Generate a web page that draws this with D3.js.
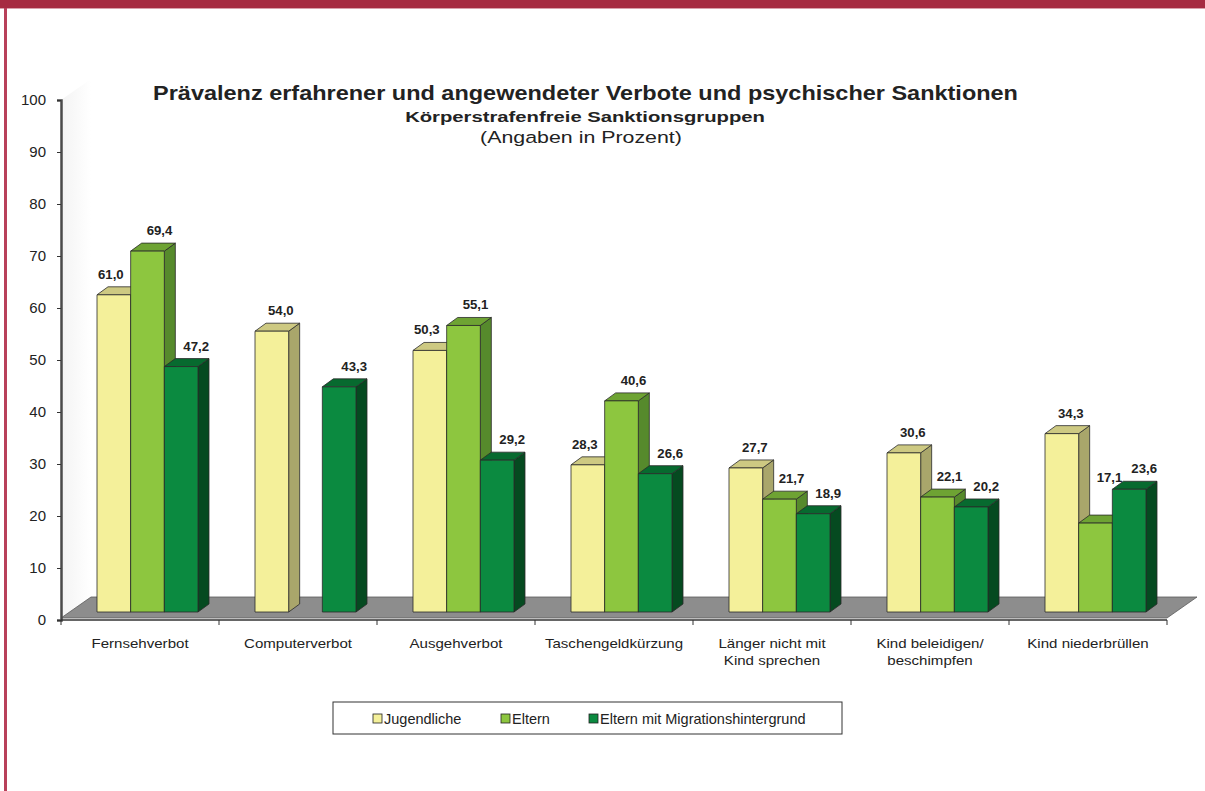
<!DOCTYPE html>
<html>
<head>
<meta charset="utf-8">
<script src="https://cdn.jsdelivr.net/npm/d3@7"></script>
<style>
  html, body { margin: 0; padding: 0; background: #fff; }
  svg { display: block; font-family: 'Liberation Sans', Arial, sans-serif; }
</style>
</head>
<body>
<svg id="chart" width="1205" height="791"></svg>
<script>
'use strict'

// data
const categories = ['Fernsehverbot', 'Computerverbot', 'Ausgehverbot', 'Taschengeldkürzung',
  'Länger nicht mit\nKind sprechen', 'Kind beleidigen/\nbeschimpfen', 'Kind niederbrüllen']
const seriesNames = ['Jugendliche', 'Eltern', 'Eltern mit Migrationshintergrund']
const jugendliche = [61.0, 54.0, 50.3, 28.3, 27.7, 30.6, 34.3]
const eltern = [69.4, null, 55.1, 40.6, 21.7, 22.1, 17.1]
const elternMigration = [47.2, 43.3, 29.2, 26.6, 18.9, 20.2, 23.6]
const yTicks = [0, 10, 20, 30, 40, 50, 60, 70, 80, 90, 100]

const seriesValues = [jugendliche, eltern, elternMigration]
const colors = [
  {front: '#f4f09a', top: '#cdc982', side: '#a9a66b'},
  {front: '#8dc63f', top: '#6ea333', side: '#568a2c'},
  {front: '#0b8a40', top: '#076a2f', side: '#054a20'}
]

const svg = d3.select('#chart')
const stretch = 1.16 // the source picture is a little wider than tall

// frame
svg.append('rect').attr('x', 0).attr('y', 0).attr('width', 1205).attr('height', 8).attr('fill', '#a62b41')
svg.append('rect').attr('x', 0).attr('y', 8).attr('width', 1205).attr('height', 1).attr('fill', '#d9a0aa')
svg.append('rect').attr('x', 4).attr('y', 8).attr('width', 3).attr('height', 783).attr('fill', '#b8405a')

const left = 61
const right = 1167
const y = d3.scaleLinear().domain([0, 100]).range([620, 100])
const x0 = d3.scaleBand().domain(categories).range([left, right])
const x1 = d3.scaleBand().domain(seriesNames).range([36, 137])

const depth = {dx: 11, dy: -8}
const floorDepth = {dx: 30, dy: -21}
const barBase = y(0) - 8
const topOf = v => y(v) - 8

// left wall (faint)
const grad = svg.append('defs').append('linearGradient')
  .attr('id', 'wall').attr('x1', 0).attr('x2', 1).attr('y1', 0).attr('y2', 0)
grad.append('stop').attr('offset', 0).attr('stop-color', '#d8d8d8')
grad.append('stop').attr('offset', 1).attr('stop-color', '#ffffff')
svg.append('path')
  .attr('d', `M${left},${y(0)}L${left + floorDepth.dx},${y(0) + floorDepth.dy}L${left + floorDepth.dx},${y(100) + floorDepth.dy}L${left},${y(100)}Z`)
  .attr('fill', 'url(#wall)').attr('opacity', 0.3)

// floor
svg.append('path')
  .attr('d', `M${left},${y(0) - 2}L${left + floorDepth.dx},${y(0) - 2 + floorDepth.dy}L${right + floorDepth.dx},${y(0) - 2 + floorDepth.dy}L${right},${y(0) - 2}Z`)
  .attr('fill', '#8d8d8d').attr('stroke', '#5a5a5a').attr('stroke-width', 0.8)

// y axis
const yAxis = d3.axisLeft(y).tickValues(yTicks).tickSize(4).tickPadding(11)
const yG = svg.append('g').attr('transform', `translate(${left},0)`).call(yAxis)
yG.select('.domain').attr('stroke', '#4a4a4a').attr('stroke-width', 2.5)
yG.selectAll('line').attr('stroke', '#333')
yG.selectAll('text').attr('font-size', 15).attr('fill', '#222')
  .attr('font-family', "'Liberation Sans', Arial, sans-serif")

// x axis
svg.append('line').attr('x1', left).attr('x2', right).attr('y1', y(0)).attr('y2', y(0))
  .attr('stroke', '#333').attr('stroke-width', 1.5)
const bounds = categories.map(c => x0(c)).concat([right])
svg.selectAll('.xtick').data(bounds).join('line')
  .attr('x1', d => d).attr('x2', d => d).attr('y1', y(0)).attr('y2', y(0) + 5)
  .attr('stroke', '#333')

categories.forEach(c => {
  const g = svg.append('g')
    .attr('transform', `translate(${x0(c) + x0.bandwidth() / 2},648) scale(${stretch},1)`)
  c.split('\n').forEach((line, i) => {
    g.append('text').attr('x', 0).attr('y', i * 17)
      .attr('text-anchor', 'middle').attr('font-size', 13).attr('fill', '#222')
      .text(line)
  })
})

// bars
const bars = svg.append('g')
categories.forEach((c, ci) => {
  seriesNames.forEach((s, si) => {
    const v = seriesValues[si][ci]
    if (v === null) return
    const bx = x0(c) + x1(s)
    const w = x1.bandwidth()
    const top = topOf(v)
    const col = colors[si]
    const g = bars.append('g').attr('stroke', '#2a2a2a').attr('stroke-width', 0.8).attr('stroke-linejoin', 'round')
    g.append('path')
      .attr('d', `M${bx + w},${top}L${bx + w + depth.dx},${top + depth.dy}L${bx + w + depth.dx},${barBase + depth.dy}L${bx + w},${barBase}Z`)
      .attr('fill', col.side)
    g.append('path')
      .attr('d', `M${bx},${top}L${bx + depth.dx},${top + depth.dy}L${bx + w + depth.dx},${top + depth.dy}L${bx + w},${top}Z`)
      .attr('fill', col.top)
    g.append('rect').attr('x', bx).attr('y', top).attr('width', w).attr('height', barBase - top)
      .attr('fill', col.front)
  })
})

// value labels, nudged like the original where neighbours are taller
const fmt = v => v.toFixed(1).replace('.', ',')
const baseShift = [9, 12, 15]
categories.forEach((c, ci) => {
  seriesNames.forEach((s, si) => {
    const v = seriesValues[si][ci]
    if (v === null) return
    const prev = si > 0 ? seriesValues[si - 1][ci] : null
    const next = si < 2 ? seriesValues[si + 1][ci] : null
    let dx = baseShift[si]
    let ly = topOf(v) + depth.dy - 8
    if (next !== null && next > v) {
      if (prev !== null && prev > v) {
        dx = 14
        ly = topOf(next) + depth.dy + 1
      } else {
        dx = -3
      }
    }
    svg.append('g')
      .attr('transform', `translate(${x0(c) + x1(s) + x1.bandwidth() / 2 + dx},${ly}) scale(1.1,1)`)
      .append('text')
      .attr('text-anchor', 'middle').attr('font-size', 12).attr('font-weight', 'bold').attr('fill', '#222')
      .text(fmt(v))
  })
})

// titles, widened to the span they take in the original
function fitText (cx, cy, width, size, weight, str) {
  const g = svg.append('g')
  const t = g.append('text').attr('text-anchor', 'middle')
    .attr('font-size', size).attr('font-weight', weight).attr('fill', '#222').text(str)
  const natural = t.node().getComputedTextLength()
  g.attr('transform', `translate(${cx},${cy}) scale(${width / natural},1)`)
}
fitText(585.5, 100, 865, 19.5, 'bold', 'Prävalenz erfahrener und angewendeter Verbote und psychischer Sanktionen')
fitText(585, 122, 360, 15.5, 'bold', 'Körperstrafenfreie Sanktionsgruppen')
fitText(581, 143, 202, 16.5, 'normal', '(Angaben in Prozent)')

// legend
svg.append('rect').attr('x', 333).attr('y', 702).attr('width', 509).attr('height', 32)
  .attr('fill', '#fff').attr('stroke', '#333').attr('stroke-width', 1)
const legendX = [373, 501, 589]
seriesNames.forEach((s, i) => {
  svg.append('rect').attr('x', legendX[i]).attr('y', 714).attr('width', 9).attr('height', 9)
    .attr('fill', colors[i].front).attr('stroke', '#222').attr('stroke-width', 0.8)
  svg.append('text').attr('x', legendX[i] + 11).attr('y', 724)
    .attr('font-size', 14.5).attr('fill', '#222').text(s)
})
</script>
</body>
</html>
